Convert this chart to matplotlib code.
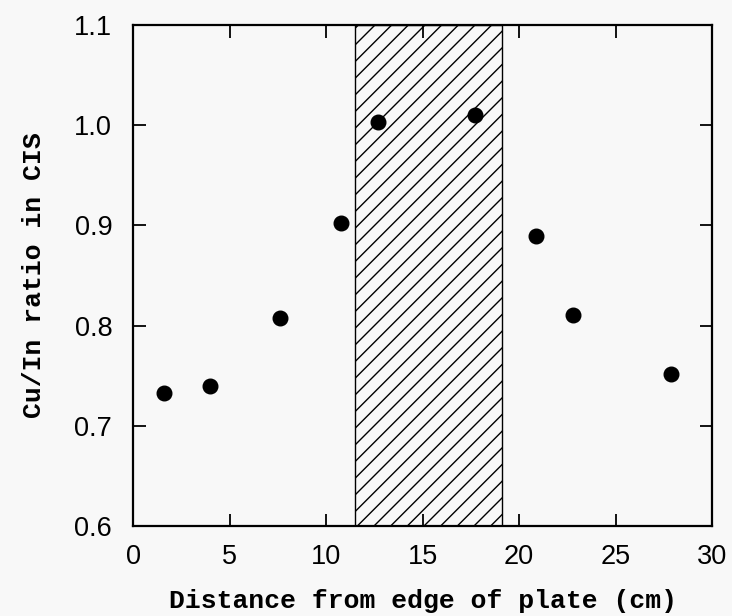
import matplotlib
matplotlib.use("Agg")
import matplotlib.pyplot as plt

# Data
distance_cm = [1.6, 4.0, 7.6, 10.8, 12.7, 17.7, 20.9, 22.8, 27.9]
cu_in_ratio = [0.733, 0.740, 0.808, 0.902, 1.003, 1.010, 0.889, 0.811, 0.752]

# Hatched band (plate edge region)
band_start = 11.5
band_end = 19.1

x_ticks = [0, 5, 10, 15, 20, 25, 30]
y_ticks = [0.6, 0.7, 0.8, 0.9, 1.0, 1.1]

plt.rcParams['hatch.linewidth'] = 1.0
bg = '#f8f8f8'

fig = plt.figure(figsize=(7.32, 6.16), dpi=100, facecolor=bg)
ax = fig.add_axes([0.1817, 0.1461, 0.7910, 0.8133])
ax.set_facecolor(bg)

# Hatched region
ax.axvspan(band_start, band_end, facecolor='none', edgecolor='black',
           hatch='//', linewidth=1.0)

# Data points
ax.plot(distance_cm, cu_in_ratio, 'o', color='black', markersize=10.5)

ax.set_xlim(0, 30)
ax.set_ylim(0.6, 1.1)
ax.set_xticks(x_ticks)
ax.set_yticks(y_ticks)
ax.set_xticklabels([str(t) for t in x_ticks])
ax.set_yticklabels(['{:.1f}'.format(t) for t in y_ticks])

ax.tick_params(direction='in', length=9, width=1.3, top=True, right=True,
               labelsize=19.5)
ax.tick_params(axis='y', pad=15)
ax.tick_params(axis='x', pad=13)
for lbl in ax.get_xticklabels() + ax.get_yticklabels():
    lbl.set_family('Liberation Sans')

for s in ax.spines.values():
    s.set_linewidth(1.6)

ax.set_xlabel('Distance from edge of plate (cm)', family='Liberation Mono',
              fontsize=19, fontweight='bold')
ax.set_ylabel('Cu/In ratio in CIS', family='Liberation Mono',
              fontsize=19, fontweight='bold')
ax.xaxis.set_label_coords(0.5, -0.126)
ax.yaxis.set_label_coords(-0.15, 0.5)

fig.savefig('out.png', dpi=100, facecolor=bg)
